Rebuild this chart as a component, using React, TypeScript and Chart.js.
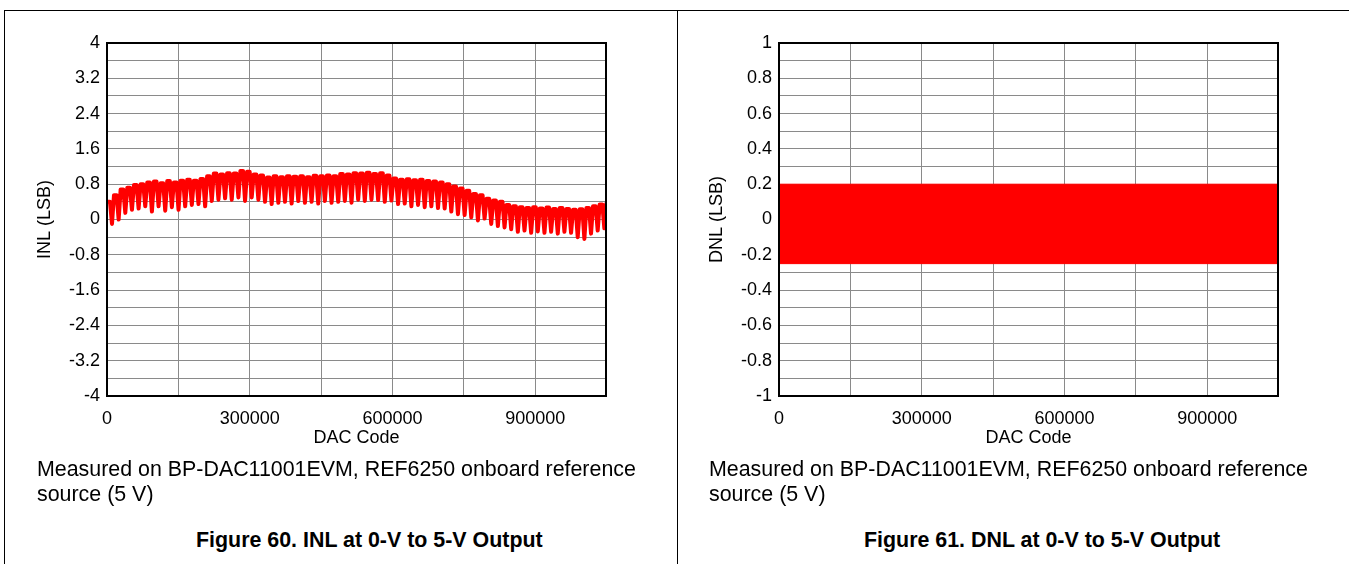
import React, { useEffect, useRef } from "react";
import { Chart, registerables } from "chart.js";

Chart.register(...registerables);

// ---- Data ----
const FULL_SCALE = 1048575;
const xGridValues = [0, 150000, 300000, 450000, 600000, 750000, 900000];
const xTickValues = [0, 300000, 600000, 900000];

// INL: upper / lower edge of each code-pattern tooth (LSB)
const inlTop = [
  0.4, 0.55, 0.68, 0.72, 0.78, 0.8, 0.84, 0.86, 0.82, 0.87,
  0.84, 0.88, 0.9, 0.88, 0.92, 0.98, 1.04, 1.02, 1.05, 1.04,
  1.1, 1.08, 1.02, 1.0, 0.95, 0.98, 0.96, 0.98, 0.97, 0.98,
  0.96, 0.99, 0.98, 1.0, 0.98, 1.03, 1.02, 1.05, 1.04, 1.06,
  1.03, 1.05, 1.0, 0.93, 0.9, 0.91, 0.89, 0.9, 0.87, 0.86,
  0.84, 0.8, 0.75, 0.7, 0.65, 0.58, 0.55, 0.47, 0.43, 0.4,
  0.33, 0.3, 0.28, 0.26, 0.28, 0.25, 0.27, 0.24, 0.26, 0.24,
  0.22, 0.23, 0.26, 0.3, 0.34, 0.38,
];
const inlBottom = [
  -0.1, 0.0, 0.15, 0.22, 0.25, 0.3, 0.18, 0.3, 0.2, 0.28,
  0.22, 0.3, 0.33, 0.35, 0.3, 0.42, 0.45, 0.48, 0.45, 0.5,
  0.42, 0.5, 0.45, 0.4, 0.35, 0.38, 0.4, 0.36, 0.42, 0.38,
  0.4, 0.36, 0.42, 0.38, 0.4, 0.42, 0.38, 0.45, 0.42, 0.45,
  0.44, 0.4, 0.43, 0.35, 0.36, 0.3, 0.33, 0.28, 0.3, 0.26,
  0.25, 0.18, 0.12, 0.1, 0.05, -0.02, 0.02, -0.1, -0.15, -0.18,
  -0.22, -0.28, -0.25, -0.3, -0.27, -0.3, -0.28, -0.32, -0.28, -0.3,
  -0.4, -0.44, -0.32, -0.25, -0.2,
];

// DNL: the measured band fills between these limits over the full code range
const dnlCodes = [0, 1048575];
const dnlMax = [0.2, 0.2];
const dnlMin = [-0.25, -0.25];

// ---- Helpers ----
const FONT = "'Liberation Sans', Arial, Helvetica, sans-serif";
const RED = "#ff0000";

function buildInlPoints() {
  const period = FULL_SCALE / (inlTop.length - 1);
  const pts: { x: number; y: number }[] = [];
  inlTop.forEach((top, i) => {
    const x0 = i * period;
    pts.push({ x: x0 + 0.05 * period, y: top });
    if (i < inlBottom.length) {
      pts.push({ x: x0 + 0.45 * period, y: top });
      pts.push({ x: x0 + 0.75 * period, y: inlBottom[i] });
    }
  });
  return pts;
}

const framePlugin = {
  id: "frame",
  afterDatasetsDraw(chart: any) {
    const { ctx, chartArea: a } = chart;
    ctx.save();
    ctx.strokeStyle = "#000";
    ctx.lineWidth = 2;
    ctx.strokeRect(a.left, a.top, a.right - a.left, a.bottom - a.top);
    ctx.restore();
  },
};

const CANVAS_W = 677;
const CANVAS_H = 460;

function makeOptions(yMin: number, yMax: number, yStep: number, yTitle: string) {
  return {
    responsive: false,
    animation: false,
    events: [],
    layout: { padding: { left: 0, top: 43, right: 71, bottom: 0 } },
    plugins: { legend: { display: false }, tooltip: { enabled: false } },
    scales: {
      x: {
        type: "linear",
        min: 0,
        max: FULL_SCALE,
        afterFit: (s: any) => {
          s.height = CANVAS_H - 396;
        },
        afterBuildTicks: (s: any) => {
          s.ticks = xGridValues.map((v) => ({ value: v }));
        },
        ticks: {
          autoSkip: false,
          maxRotation: 0,
          minRotation: 0,
          padding: 12,
          color: "#000",
          font: { family: FONT, size: 18 },
          callback: (v: any) => {
            const r = Math.round(Number(v));
            return xTickValues.indexOf(r) >= 0 ? String(r) : "";
          },
        },
        grid: { color: "#8a8a8a", lineWidth: 1, drawTicks: false },
        border: { display: false },
        title: {
          display: true,
          text: "DAC Code",
          color: "#000",
          font: { family: FONT, size: 18 },
          padding: { top: 0, bottom: 11 },
        },
      },
      y: {
        type: "linear",
        min: yMin,
        max: yMax,
        afterFit: (s: any) => {
          s.width = 107;
        },
        ticks: {
          stepSize: yStep,
          autoSkip: false,
          padding: 7,
          color: "#000",
          font: { family: FONT, size: 18 },
          callback: (v: number, i: number) =>
            i % 2 === 0 ? String(Math.round(v * 10) / 10) : "",
        },
        grid: { color: "#8a8a8a", lineWidth: 1, drawTicks: false },
        border: { display: false },
        title: {
          display: true,
          text: yTitle,
          color: "#000",
          font: { family: FONT, size: 18 },
          padding: { top: 34, bottom: 0 },
        },
      },
    },
  };
}

function InlChart() {
  const ref = useRef<HTMLCanvasElement>(null);
  useEffect(() => {
    const chart = new Chart(ref.current as HTMLCanvasElement, {
      type: "line",
      data: {
        datasets: [
          {
            label: "INL",
            data: buildInlPoints(),
            borderColor: RED,
            borderWidth: 4,
            borderJoinStyle: "round",
            pointRadius: 0,
            tension: 0,
            fill: false,
          },
        ],
      },
      options: makeOptions(-4, 4, 0.4, "INL (LSB)") as any,
      plugins: [framePlugin],
    });
    return () => chart.destroy();
  }, []);
  return <canvas ref={ref} width={CANVAS_W} height={CANVAS_H} style={{ width: CANVAS_W, height: CANVAS_H, display: "block" }} />;
}

function DnlChart() {
  const ref = useRef<HTMLCanvasElement>(null);
  useEffect(() => {
    const chart = new Chart(ref.current as HTMLCanvasElement, {
      type: "line",
      data: {
        datasets: [
          {
            label: "DNL max",
            data: dnlCodes.map((c, i) => ({ x: c, y: dnlMax[i] })),
            borderColor: RED,
            backgroundColor: RED,
            borderWidth: 1,
            pointRadius: 0,
            fill: "+1",
          },
          {
            label: "DNL min",
            data: dnlCodes.map((c, i) => ({ x: c, y: dnlMin[i] })),
            borderColor: RED,
            backgroundColor: RED,
            borderWidth: 1,
            pointRadius: 0,
            fill: false,
          },
        ],
      },
      options: makeOptions(-1, 1, 0.1, "DNL (LSB)") as any,
      plugins: [framePlugin],
    });
    return () => chart.destroy();
  }, []);
  return <canvas ref={ref} width={CANVAS_W} height={CANVAS_H} style={{ width: CANVAS_W, height: CANVAS_H, display: "block" }} />;
}

const captionStyle: React.CSSProperties = {
  position: "absolute",
  top: 457,
  fontFamily: FONT,
  fontSize: 21.4,
  lineHeight: "25px",
  color: "#000",
  whiteSpace: "nowrap",
};

const titleStyle: React.CSSProperties = {
  position: "absolute",
  top: 528,
  fontFamily: FONT,
  fontSize: 21.4,
  fontWeight: "bold",
  lineHeight: "25px",
  color: "#000",
  whiteSpace: "nowrap",
};

export default function App() {
  return (
    <div
      style={{
        position: "fixed",
        left: 0,
        top: 0,
        width: 1349,
        height: 564,
        background: "#fff",
        overflow: "hidden",
      }}
    >
      <div style={{ position: "absolute", left: 4, top: 10, width: 1345, height: 1, background: "#000" }} />
      <div style={{ position: "absolute", left: 4, top: 10, width: 1, height: 554, background: "#000" }} />
      <div style={{ position: "absolute", left: 677, top: 10, width: 1, height: 554, background: "#000" }} />

      <div style={{ position: "absolute", left: 0, top: 0 }}>
        <InlChart />
      </div>
      <div style={{ position: "absolute", left: 672, top: 0 }}>
        <DnlChart />
      </div>

      <div style={{ ...captionStyle, left: 37 }}>
        Measured on BP-DAC11001EVM, REF6250 onboard reference
        <br />
        source (5 V)
      </div>
      <div style={{ ...captionStyle, left: 709 }}>
        Measured on BP-DAC11001EVM, REF6250 onboard reference
        <br />
        source (5 V)
      </div>

      <div style={{ ...titleStyle, left: 196 }}>Figure 60. INL at 0-V to 5-V Output</div>
      <div style={{ ...titleStyle, left: 864 }}>Figure 61. DNL at 0-V to 5-V Output</div>
    </div>
  );
}
